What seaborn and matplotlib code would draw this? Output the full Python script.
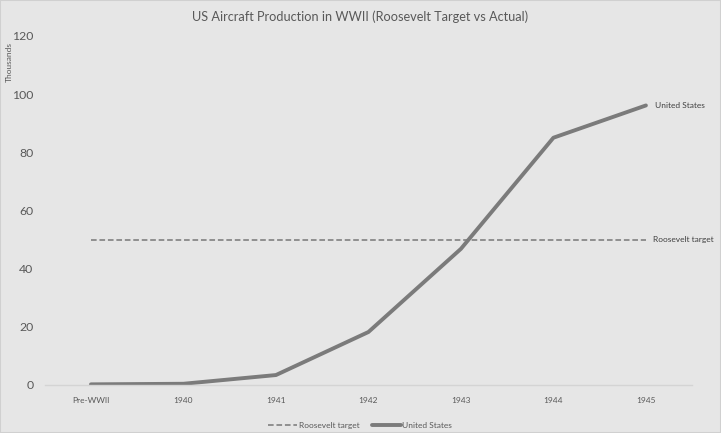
import pandas as pd
import matplotlib
matplotlib.use('Agg')
import matplotlib.pyplot as plt
import seaborn as sns

# data (thousands of aircraft)
years = ['Pre-WWII', '1940', '1941', '1942', '1943', '1944', '1945']
us_production = [0.2, 0.4, 3.4, 18.2, 46.8, 85.0, 96.1]
roosevelt_target = [50, 50, 50, 50, 50, 50, 50]
yticks = [0, 20, 40, 60, 80, 100, 120]

df = pd.DataFrame({'Year': years, 'United States': us_production,
                   'Roosevelt target': roosevelt_target})
df['pos'] = range(len(df))

bg = '#e6e6e6'
sns.set_style('white')
plt.rcParams['font.family'] = ['Lato', 'DejaVu Sans']

fig = plt.figure(figsize=(7.21, 4.33), dpi=100, facecolor=bg)
ax = fig.add_axes([0.062, 0.111, 0.898, 0.806])
ax.set_facecolor(bg)

sns.lineplot(x='pos', y='Roosevelt target', data=df, ax=ax, color='#8f8f8f',
             linewidth=1.4, linestyle=(0, (2.9, 1.45)), label='Roosevelt target')
sns.lineplot(x='pos', y='United States', data=df, ax=ax, color='#7b7b7b',
             linewidth=2.8, label='United States')

ax.set_xlim(-0.5, len(years) - 0.5)
ax.set_ylim(0, 120)
ax.set_xticks(df['pos'])
ax.set_xticklabels(years, fontsize=6, color='#595959')
ax.set_yticks(yticks)
ax.set_yticklabels(yticks, fontsize=8.8, color='#595959')
ax.tick_params(axis='x', length=0, pad=9)
ax.tick_params(axis='y', length=0, pad=8)
ax.set_xlabel('')
ax.set_ylabel('')
for s in ['top', 'right', 'left']:
    ax.spines[s].set_visible(False)
ax.spines['bottom'].set_color('#d4d4d4')
ax.spines['bottom'].set_linewidth(1)

# end labels
ax.text(6.1, us_production[-1], 'United States', fontsize=6, color='#404040',
        va='center', ha='left')
ax.text(6.08, roosevelt_target[-1], 'Roosevelt target', fontsize=6, color='#404040',
        va='center', ha='left')

fig.text(0.5, 0.962, 'US Aircraft Production in WWII (Roosevelt Target vs Actual)',
         ha='center', va='center', fontsize=9.2, color='#595959')
fig.text(0.013, 0.857, 'Thousands', rotation=90, ha='center', va='center',
         fontsize=6, color='#595959')

leg = ax.legend(loc='center', bbox_to_anchor=(0.487, -0.117), ncol=2,
                frameon=False, fontsize=6, handlelength=3.5, columnspacing=1.5,
                handletextpad=0.2)
for t in leg.get_texts():
    t.set_color('#595959')

fig.patches.append(plt.Rectangle((0, 0), 1, 1, transform=fig.transFigure,
                                 fill=False, edgecolor='#d0d0d0', linewidth=1.5))

plt.savefig('out.png', dpi=100, facecolor=bg)
